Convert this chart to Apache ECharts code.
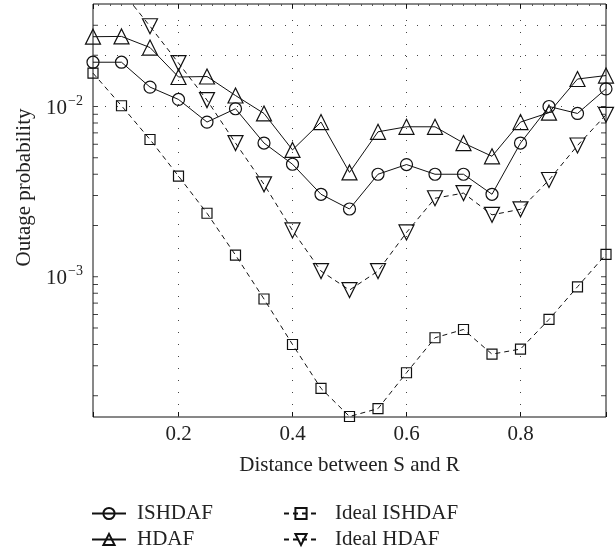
<!DOCTYPE html>
<html>
<head>
<meta charset="utf-8">
<script src="https://cdn.jsdelivr.net/npm/echarts@6/dist/echarts.min.js"></script>
<style>html,body{margin:0;padding:0;background:#fff;}#c{width:616px;height:552px;}</style>
</head>
<body>
<div id="c"></div>
<script>
// ---- data ----
const xValues = [0.05,0.10,0.15,0.20,0.25,0.30,0.35,0.40,0.45,0.50,0.55,0.60,0.65,0.70,0.75,0.80,0.85,0.90,0.95];
const ishdaf = [0.0182,0.0182,0.0130,0.0110,0.0081,0.0097,0.0061,0.00458,0.00305,0.0025,0.0040,0.00456,0.0040,0.0040,0.00305,0.0061,0.0100,0.0091,0.0127];
const hdaf = [0.0257,0.0258,0.0222,0.0149,0.0150,0.0116,0.0091,0.00556,0.0081,0.0041,0.0071,0.0076,0.0076,0.0061,0.0051,0.0081,0.0092,0.0145,0.0152];
const idealIshdaf = [0.0157,0.0101,0.0064,0.0039,0.00236,0.00134,0.00074,0.00040,0.000221,0.000151,0.000168,0.000273,0.000438,0.00049,0.000351,0.000376,0.000561,0.000873,0.001355];
const idealHdaf = [0.075,0.048,0.0296,0.0180,0.0109,0.0061,0.00349,0.00187,0.00108,0.000835,0.00108,0.00182,0.00289,0.0031,0.00231,0.00249,0.0037,0.0059,0.00894];
const seriesNames = ['ISHDAF','HDAF','Ideal ISHDAF','Ideal HDAF'];
const xTickLabels = [0.2,0.4,0.6,0.8];
const yTickLabels = [1e-3,1e-2];
const yGridValues = [2e-4,3e-4,4e-4,5e-4,6e-4,7e-4,8e-4,9e-4,1e-3,2e-3,3e-3,4e-3,5e-3,6e-3,7e-3,8e-3,9e-3,1e-2,2e-2,3e-2];
const xMin = 0.05, xMax = 0.95, yMin = 1.5e-4, yMax = 0.04;

const FONT = '"Liberation Serif", "DejaVu Serif", serif';
const FS = 21;
const pairs = arr => xValues.map((x,i)=>[x,arr[i]]);

function lineSeries(name, data, symbol, dashed, size, rotate){
  return {
    name, type:'line', data: pairs(data), symbol, symbolSize:size, symbolRotate: rotate||0,
    showSymbol:true, clip:true, animation:false,
    lineStyle:{color:'#111', width:1, type: dashed ? [5,4] : 'solid'},
    itemStyle:{color:'rgba(0,0,0,0)', borderColor:'#111', borderWidth:1.2},
    emphasis:{disabled:true}, z:3
  };
}
function legendItem(name, left, top, pad){
  return {
    data:[name], orient:'horizontal', left, top, itemWidth:34, itemHeight:14,
    selectedMode:false, padding:0,
    textStyle:{fontFamily:FONT, fontSize:FS, color:'#222', padding:[0,0,0,pad]}
  };
}

const chart = echarts.init(document.getElementById('c'), null, {renderer:'canvas'});
chart.setOption({
  backgroundColor:'#fff',
  animation:false,
  grid:{left:93, top:4, width:513, height:413, show:true, borderColor:'#111', borderWidth:1, backgroundColor:'transparent'},
  xAxis:[{
    type:'value', min:xMin, max:xMax, splitNumber:5,
    name:'Distance between S and R', nameLocation:'middle', nameGap:38,
    nameTextStyle:{fontFamily:FONT, fontSize:FS, color:'#222'},
    axisLine:{show:false},
    axisTick:{show:true, inside:true, length:5, lineStyle:{color:'#111'}},
    axisLabel:{fontFamily:FONT, fontSize:FS, color:'#222', margin:7,
      formatter: v => xTickLabels.some(t=>Math.abs(t-v)<1e-9) ? v.toFixed(1) : ''},
    splitLine:{show:false}
  },{
    type:'value', min:xMin, max:xMax, splitNumber:5, position:'top',
    axisLine:{show:false},
    axisTick:{show:true, inside:true, length:5, lineStyle:{color:'#111'}},
    minorTick:{show:true, splitNumber:10, length:2, lineStyle:{color:'#555'}},
    axisLabel:{show:false}, splitLine:{show:false}
  }],
  yAxis:{
    type:'log', logBase:10, min:yMin, max:yMax,
    name:'Outage probability', nameLocation:'middle', nameGap:55,
    nameTextStyle:{fontFamily:FONT, fontSize:FS, color:'#222', padding:[0,0,0,46]},
    axisLine:{show:false}, axisTick:{show:false}, splitLine:{show:false},
    axisLabel:{margin:10, showMinLabel:false, showMaxLabel:false,
      formatter: v => {
        const hit = yTickLabels.find(t=>Math.abs(Math.log10(t)-Math.log10(v))<1e-6);
        if (hit===undefined) return '';
        const e = Math.round(Math.log10(hit));
        return '{b|10}{s|' + (e<0?'\u2212':'') + Math.abs(e) + '}';
      },
      rich:{
        b:{fontFamily:FONT, fontSize:FS, color:'#222', lineHeight:24, verticalAlign:'bottom'},
        s:{fontFamily:FONT, fontSize:14, color:'#222', lineHeight:24, verticalAlign:'top', padding:[0,0,9,1]}
      }
    }
  },
  legend:[
    legendItem(seriesNames[0], 91, 503, 6),
    legendItem(seriesNames[1], 91, 529, 6),
    legendItem(seriesNames[2], 283, 503, 12),
    legendItem(seriesNames[3], 283, 529, 12)
  ],
  series:[
    lineSeries(seriesNames[0], ishdaf, 'circle', false, 12),
    lineSeries(seriesNames[1], hdaf, 'triangle', false, 15),
    lineSeries(seriesNames[2], idealIshdaf, 'rect', true, 10),
    lineSeries(seriesNames[3], idealHdaf, 'triangle', true, 15, 180),
    {
      name:'leftTicks', type:'scatter', clip:false, silent:true, animation:false,
      data: yGridValues.map(v=>[xMin,v]), symbol:'rect', symbolSize:[5,1], symbolOffset:[2.5,0],
      itemStyle:{color:'#111'}, z:4,
      markLine:{
        silent:true, symbol:['none','none'], animation:false, label:{show:false},
        lineStyle:{color:'#444', width:1, type:[1,11]},
        data: yGridValues.map(v=>({yAxis:v})).concat(xTickLabels.map(v=>({xAxis:v})))
      }
    },
    {
      name:'rightTicks', type:'scatter', clip:false, silent:true, animation:false,
      data: yGridValues.map(v=>[xMax,v]), symbol:'rect', symbolSize:[5,1], symbolOffset:[-2.5,0],
      itemStyle:{color:'#111'}, z:4
    }
  ]
});
</script>
</body>
</html>
